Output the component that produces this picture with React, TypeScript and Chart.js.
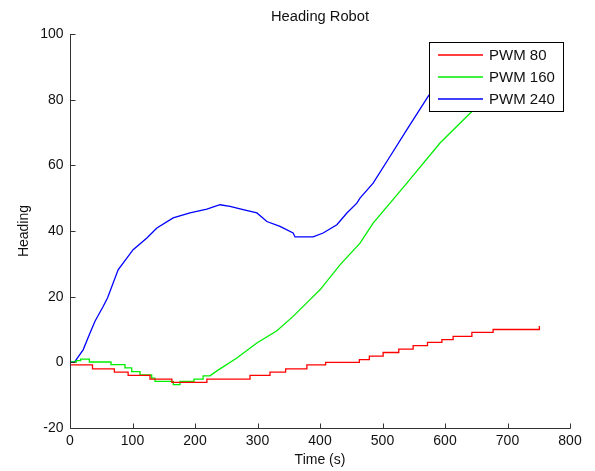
import React, { useEffect, useRef } from 'react';
import { Chart, registerables } from 'chart.js';

Chart.register(...registerables);

const chartTitle = 'Heading Robot';
const xAxisTitle = 'Time (s)';
const yAxisTitle = 'Heading';
const xTicks = [0, 100, 200, 300, 400, 500, 600, 700, 800];
const yTicks = [-20, 0, 20, 40, 60, 80, 100];

const seriesNames = ['PWM 80', 'PWM 160', 'PWM 240'];
const seriesColors = ['#ff0000', '#00ee00', '#0000ff'];

// PWM 80 (step changes)
const pwm80Time = [0, 36, 71, 93, 128, 163, 219, 288, 320, 345, 379, 409, 463, 479, 501, 526, 549, 572, 595, 613, 643, 677, 750, 751];
const pwm80Heading = [-0.8, -2, -3, -4, -5.1, -6.1, -5.1, -4, -3, -2, -0.8, 0, 0.8, 1.9, 3, 4, 5.1, 6.1, 6.9, 7.9, 9.1, 10, 10, 11.1];

// PWM 160
const pwm160Time = [0, 10, 10, 17, 17, 31, 31, 65.6, 65.6, 88, 88, 98.7, 98.7, 112, 112, 130.7, 130.7, 136, 136, 165.3, 165.3, 176, 176, 198.4, 198.4, 213, 213, 224, 235, 267, 299, 331, 357, 384, 400, 432, 464, 485, 539, 592, 643, 700, 751];
const pwm160Heading = [0.1, 0.1, 0.5, 0.5, 1.0, 1.0, 0.1, 0.1, -0.7, -0.7, -1.7, -1.7, -2.8, -2.8, -3.8, -3.8, -4.8, -4.8, -5.8, -5.8, -6.8, -6.8, -5.8, -5.8, -5.1, -5.1, -4.1, -4.1, -2.6, 1.3, 5.9, 9.6, 14.0, 19.1, 22.1, 29.7, 36.3, 42.4, 54.6, 66.8, 76.4, 87, 96];

// PWM 240
const pwm240Time = [0, 8, 21, 32, 40, 53, 60, 77, 101, 123, 139, 165, 192, 219, 240, 256, 277, 299, 315, 336, 357, 360, 389, 405, 427, 443, 459, 464, 485, 512, 539, 573, 600, 615];
const pwm240Heading = [0, 0.3, 3.8, 8.9, 12.5, 17, 19.6, 28.2, 34.3, 37.9, 40.9, 44, 45.5, 46.7, 48, 47.5, 46.5, 45.5, 42.9, 41.4, 39.4, 38.2, 38.2, 39.4, 41.9, 45.5, 48.5, 50, 54.6, 62.7, 70.9, 81, 88, 92];

const FONT = '"Liberation Sans", Arial, sans-serif';
const AXIS_COLOR = '#333333';
const TEXT_COLOR = '#111111';

const toPoints = (xs: number[], ys: number[]) => xs.map((x, i) => ({ x, y: ys[i] }));

const axesPlugin = {
  id: 'matlabAxes',
  afterDatasetsDraw(chart: any) {
    const { ctx, chartArea } = chart;
    const xs = chart.scales.x;
    const ys = chart.scales.y;
    ctx.save();
    ctx.strokeStyle = AXIS_COLOR;
    ctx.lineWidth = 1;
    const left = Math.round(chartArea.left) + 0.5;
    const bottom = Math.round(chartArea.bottom) + 0.5;
    ctx.beginPath();
    ctx.moveTo(left, Math.round(chartArea.top));
    ctx.lineTo(left, bottom);
    ctx.lineTo(Math.round(chartArea.right) + 0.5, bottom);
    ctx.stroke();
    ctx.beginPath();
    xTicks.forEach((v) => {
      const px = Math.round(xs.getPixelForValue(v)) + 0.5;
      ctx.moveTo(px, bottom);
      ctx.lineTo(px, bottom - 5);
    });
    yTicks.forEach((v) => {
      const py = Math.round(ys.getPixelForValue(v)) + 0.5;
      ctx.moveTo(left, py);
      ctx.lineTo(left + 5, py);
    });
    ctx.stroke();
    ctx.restore();
  },
};

const legendPlugin = {
  id: 'matlabLegend',
  afterDraw(chart: any) {
    const { ctx } = chart;
    ctx.save();
    const bx = 429.5;
    const by = 42.5;
    const bw = 134;
    const bh = 69;
    ctx.fillStyle = '#ffffff';
    ctx.fillRect(bx, by, bw, bh);
    ctx.strokeStyle = '#000000';
    ctx.lineWidth = 1;
    ctx.strokeRect(bx, by, bw, bh);
    ctx.font = `15px ${FONT}`;
    ctx.textBaseline = 'middle';
    ctx.textAlign = 'left';
    seriesNames.forEach((name, i) => {
      const y = 55 + i * 22;
      ctx.strokeStyle = seriesColors[i];
      ctx.lineWidth = 1.3;
      ctx.beginPath();
      ctx.moveTo(438, y);
      ctx.lineTo(483, y);
      ctx.stroke();
      ctx.fillStyle = TEXT_COLOR;
      ctx.fillText(name, 489, y + 1);
    });
    ctx.restore();
  },
};

export default function App() {
  const canvasRef = useRef<HTMLCanvasElement | null>(null);

  useEffect(() => {
    if (!canvasRef.current) return;
    const seriesData = [
      toPoints(pwm80Time, pwm80Heading),
      toPoints(pwm160Time, pwm160Heading),
      toPoints(pwm240Time, pwm240Heading),
    ];
    const chart = new Chart(canvasRef.current, {
      type: 'line',
      data: {
        datasets: seriesNames.map((name, i) => ({
          label: name,
          data: seriesData[i],
          borderColor: seriesColors[i],
          backgroundColor: seriesColors[i],
          borderWidth: 1.3,
          pointRadius: 0,
          fill: false,
          tension: 0,
          stepped: i === 0 ? true : false,
        })),
      },
      options: {
        responsive: false,
        maintainAspectRatio: false,
        devicePixelRatio: 1,
        animation: false,
        layout: { padding: { top: 0, right: 25, bottom: 0, left: 0 } },
        plugins: {
          legend: { display: false },
          tooltip: { enabled: false },
          title: {
            display: true,
            fullSize: false,
            text: chartTitle,
            color: TEXT_COLOR,
            font: { family: FONT, size: 14.7, weight: 'normal' },
            padding: { top: 8.2, bottom: 8.2 },
          },
        },
        scales: {
          x: {
            type: 'linear',
            min: 0,
            max: 800,
            afterFit: (s: any) => {
              s.height = 43;
            },
            afterBuildTicks: (s: any) => {
              s.ticks = xTicks.map((v) => ({ value: v }));
            },
            ticks: {
              color: TEXT_COLOR,
              padding: 4.6,
              font: { family: FONT, size: 14 },
              maxRotation: 0,
              autoSkip: false,
            },
            grid: { display: false, drawTicks: false },
            border: { display: false },
            title: {
              display: true,
              text: xAxisTitle,
              color: TEXT_COLOR,
              font: { family: FONT, size: 14 },
              padding: { top: 0, bottom: 2.6 },
            },
          },
          y: {
            type: 'linear',
            min: -20,
            max: 100,
            afterFit: (s: any) => {
              s.width = 70;
            },
            afterBuildTicks: (s: any) => {
              s.ticks = yTicks.map((v) => ({ value: v }));
            },
            ticks: {
              color: TEXT_COLOR,
              padding: 6.5,
              font: { family: FONT, size: 14 },
              autoSkip: false,
            },
            grid: { display: false, drawTicks: false },
            border: { display: false },
            title: {
              display: true,
              text: yAxisTitle,
              color: TEXT_COLOR,
              font: { family: FONT, size: 14 },
              padding: { top: 16, bottom: 0 },
            },
          },
        },
      },
      plugins: [axesPlugin, legendPlugin],
    });
    return () => chart.destroy();
  }, []);

  return (
    <div style={{ position: 'fixed', left: 0, top: 0, width: 595, height: 471, background: '#ffffff' }}>
      <canvas ref={canvasRef} width={595} height={471} style={{ display: 'block', width: 595, height: 471 }} />
    </div>
  );
}
